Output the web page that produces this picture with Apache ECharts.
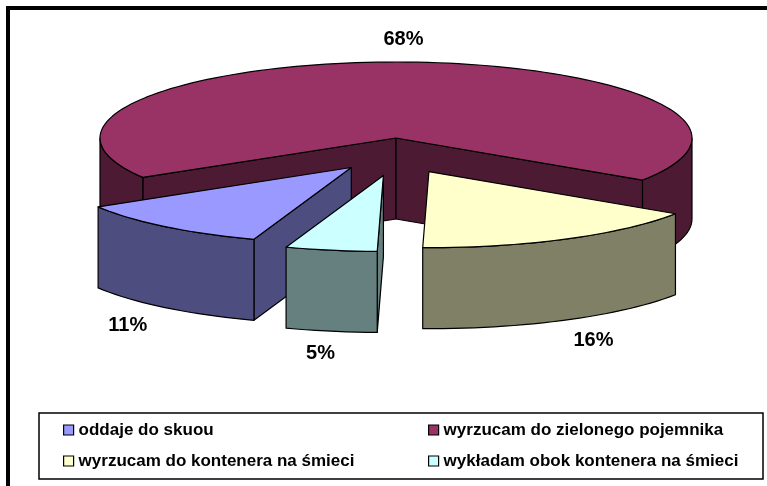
<!DOCTYPE html>
<html>
<head>
<meta charset="utf-8">
<script src="https://cdn.jsdelivr.net/npm/echarts@6/dist/echarts.min.js"></script>
<style>
  html, body { margin: 0; padding: 0; background: #fff; }
  #chart { width: 767px; height: 486px; }
</style>
</head>
<body>
<div id="chart"></div>
<script>
const categories = [
  'oddaje do skuou',
  'wyrzucam do zielonego pojemnika',
  'wyrzucam do kontenera na śmieci',
  'wykładam obok kontenera na śmieci'
];
const shares = [11, 68, 16, 5];

// look of the 3d pie
const CX = 396, CY = 138, RX = 296, RY = 76, DEPTH = 81, START = 109.2;
const topColors = ['#9999FF', '#993366', '#FFFFCC', '#CCFFFF'];
const sideColors = ['#4D4D80', '#4D1A33', '#808066', '#668080'];
const explode = [true, false, true, true];

const total = shares.reduce((a, b) => a + b, 0);
const angles = [];
let acc = START;
shares.forEach(v => {
  const s = acc;
  acc += v / total * 360;
  angles.push([s, acc]);
});

const rad = d => d * Math.PI / 180;

function renderSlice(params, api) {
  const i = params.seriesIndex;
  const [s, e] = angles[i];
  const m = (s + e) / 2;
  let ox = CX, oy = CY;
  if (explode[i]) {
    ox += 0.24 * RX * Math.cos(rad(m));
    oy += 0.5 * RY * Math.sin(rad(m));
  }
  const pt = (t, d) => [ox + RX * Math.cos(rad(t)), oy + RY * Math.sin(rad(t)) + (d || 0)];
  const arc = (lo, hi, d) => {
    const n = Math.max(2, Math.ceil((hi - lo) / 2));
    const out = [];
    for (let k = 0; k <= n; k++) out.push(pt(lo + (hi - lo) * k / n, d));
    return out;
  };
  const stroke = { stroke: '#000', lineWidth: 1.2, lineJoin: 'round' };
  const side = Object.assign({ fill: sideColors[i] }, stroke);
  const children = [];
  const apex = [ox, oy], apexB = [ox, oy + DEPTH];

  if (Math.cos(rad(s)) < 0) {
    children.push({ type: 'polygon', shape: { points: [apex, pt(s), pt(s, DEPTH), apexB] }, style: side });
  }
  if (Math.cos(rad(e)) > 0) {
    children.push({ type: 'polygon', shape: { points: [apex, pt(e), pt(e, DEPTH), apexB] }, style: side });
  }
  for (let k = -1; k <= 2; k++) {
    const lo = Math.max(s, 360 * k), hi = Math.min(e, 360 * k + 180);
    if (hi > lo) {
      const pts = arc(lo, hi, 0).concat(arc(lo, hi, DEPTH).reverse());
      children.push({ type: 'polygon', shape: { points: pts }, style: side });
    }
  }
  children.push({
    type: 'polygon',
    shape: { points: [apex].concat(arc(s, e, 0)) },
    style: Object.assign({ fill: topColors[i] }, stroke)
  });

  const sm = Math.sin(rad(m));
  children.push({
    type: 'text',
    z2: 50,
    style: {
      x: ox + 1.2 * RX * Math.cos(rad(m)),
      y: oy + 1.3 * RY * sm + (sm > 0 ? DEPTH : 0),
      text: api.value(0) + '%',
      fill: '#000',
      font: 'bold 20px "Liberation Sans", Arial, sans-serif',
      align: 'center',
      verticalAlign: 'middle'
    }
  });
  return { type: 'group', children };
}

// back to front
const order = categories.map((_, i) => i)
  .sort((a, b) => Math.sin(rad((angles[a][0] + angles[a][1]) / 2)) - Math.sin(rad((angles[b][0] + angles[b][1]) / 2)));

const series = categories.map((name, i) => ({
  name: name,
  type: 'custom',
  coordinateSystem: 'none',
  z: 2 + order.indexOf(i),
  itemStyle: { color: topColors[i] },
  renderItem: renderSlice,
  data: [[shares[i]]]
}));

const legendItem = i => ({
  name: categories[i],
  itemStyle: { color: topColors[i], borderColor: '#000', borderWidth: 1.2 }
});
const legendBase = {
  orient: 'vertical',
  top: 420,
  padding: 0,
  itemWidth: 10,
  itemHeight: 10,
  itemGap: 11,
  icon: 'rect',
  selectedMode: false,
  textStyle: { fontSize: 17, fontWeight: 'bold', color: '#000', fontFamily: '"Liberation Sans", Arial, sans-serif', lineHeight: 20 }
};

const chart = echarts.init(document.getElementById('chart'));
chart.setOption({
  animation: false,
  backgroundColor: '#fff',
  graphic: [
    { type: 'rect', shape: { x: 8, y: 8, width: 800, height: 520 }, style: { fill: 'none', stroke: '#000', lineWidth: 4 } },
    { type: 'rect', shape: { x: 39, y: 413, width: 724, height: 66 }, style: { fill: 'none', stroke: '#000', lineWidth: 1.5 } }
  ],
  legend: [
    Object.assign({ left: 63, data: [legendItem(0), legendItem(2)] }, legendBase),
    Object.assign({ left: 428, data: [legendItem(1), legendItem(3)] }, legendBase)
  ],
  series: series
});
</script>
</body>
</html>
